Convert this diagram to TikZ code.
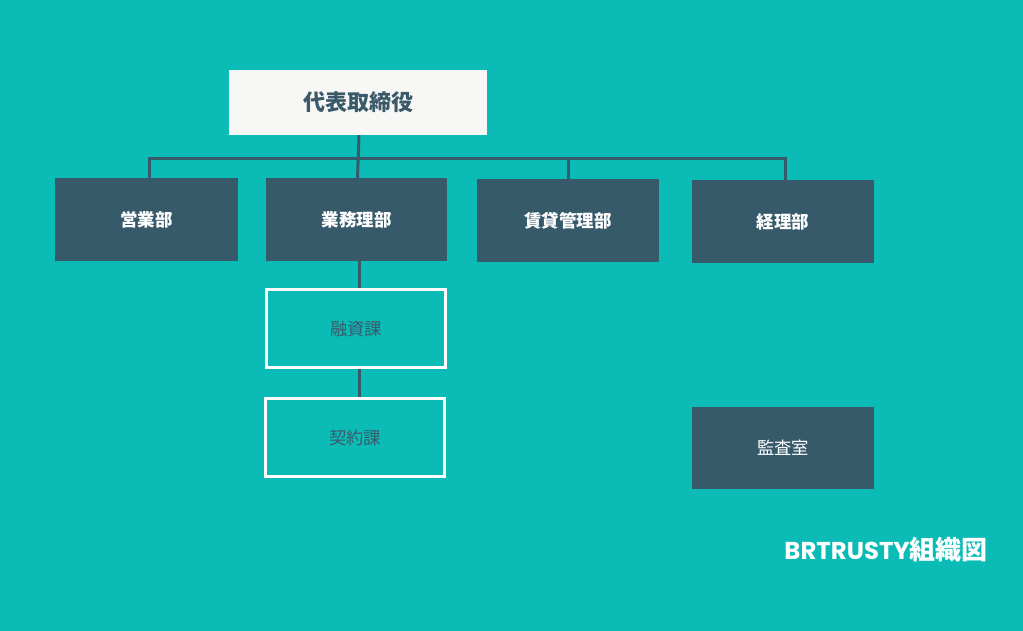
\documentclass[tikz,border=0pt]{standalone}
\usepackage{fontspec}
\newfontfamily\jp{Noto Sans CJK JP}
\newfontfamily\pop{Poppins}
\definecolor{bgteal}{HTML}{0BBBB5}
\definecolor{darkbox}{HTML}{375A6B}
\definecolor{topfill}{HTML}{F7F7F5}
\definecolor{darktext}{HTML}{3A5A6A}
\begin{document}
\begin{tikzpicture}[x=1pt,y=-1pt,
  topbox/.style={fill=topfill,draw=none,minimum width=258pt,minimum height=65pt,inner sep=0pt,font=\jp\bfseries\fontsize{22}{26}\selectfont,text=darktext},
  deptbox/.style={fill=darkbox,draw=none,minimum width=182pt,minimum height=83pt,inner sep=0pt,font=\jp\bfseries\fontsize{17.5}{21}\selectfont,text=white},
  secbox/.style={draw=white,line width=3pt,fill=none,minimum width=179pt,minimum height=78pt,inner sep=0pt,font=\jp\fontsize{17.3}{21}\selectfont,text=darktext},
  audbox/.style={fill=darkbox,draw=none,minimum width=182pt,minimum height=82pt,inner sep=0pt,font=\jp\fontsize{17.3}{21}\selectfont,text=white},
  conn/.style={draw=darkbox,line width=3pt}]
\useasboundingbox (0,0) rectangle (1023,631);
\fill[bgteal] (0,0) rectangle (1023,631);

\node[topbox] (top) at (358,102.5) {代表取締役};
\node[deptbox,minimum width=183pt] (eigyo) at (146.5,219.5) {営業部};
\node[deptbox,minimum width=181pt] (gyomu) at (356.5,219.5) {業務理部};
\node[deptbox] (chintai) at (568,220.5) {賃貸管理部};
\node[deptbox] (keiri) at (783,221.5) {経理部};
\node[secbox] (yushi) at (356,328.5) {融資課};
\node[secbox] (keiyaku) at (355,437.5) {契約課};
\node[audbox] (kansa) at (783,448) {監査室};
\node[anchor=east,inner sep=0pt,text=white] (title) at (988,550)
  {\pop\bfseries\fontsize{24.4}{28}\selectfont BRTRUSTY{\jp\bfseries\fontsize{26}{30}\selectfont 組織図}};

\coordinate (bar) at (0,158.5);
\draw[conn] ([xshift=2.5pt]eigyo.north) -- ([xshift=2.5pt]eigyo.north |- bar) -- ([xshift=2pt]keiri.north |- bar) -- ([xshift=2pt]keiri.north);
\draw[conn] (chintai.north) -- (chintai.north |- bar);
\draw[conn] ([xshift=1pt]top.south) -- ([xshift=1pt]gyomu.north);
\draw[conn] ([xshift=2.5pt]gyomu.south) -- ([xshift=2.5pt]gyomu.south |- yushi.north);
\draw[conn] ([xshift=3pt]yushi.south) -- ([xshift=3pt]yushi.south |- keiyaku.north);
\end{tikzpicture}
\end{document}
